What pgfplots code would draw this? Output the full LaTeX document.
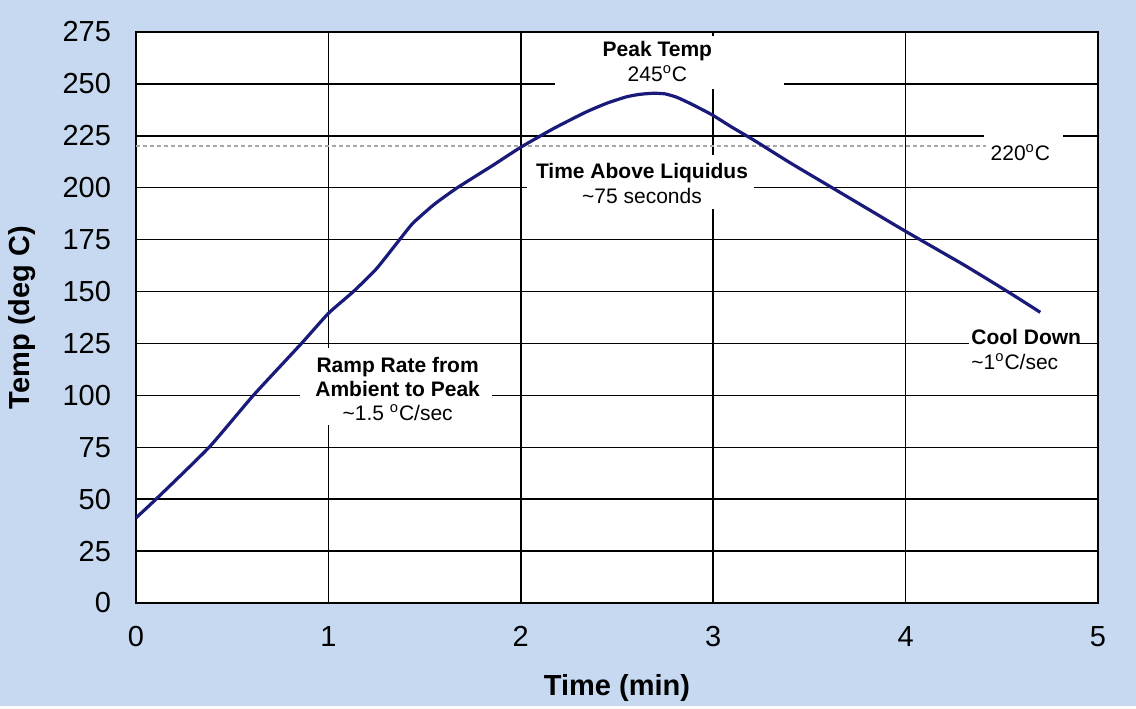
\documentclass[border=0pt]{standalone}
\usepackage{pgfplots}
\pgfplotsset{compat=1.18}
\usepackage{fontspec}
\setmainfont{Liberation Sans}
\definecolor{bg}{RGB}{198,217,240}
\definecolor{curve}{RGB}{26,26,122}
\begin{document}
\begin{tikzpicture}
\fill[bg] (0,0) rectangle (568pt,353pt);
\begin{axis}[
 at={(68pt,51.5pt)}, anchor=south west, scale only axis, width=481pt, height=285.5pt,
 xmin=0,xmax=5,ymin=0,ymax=275,
 xtick={0,1,2,3,4,5}, ytick={0,25,...,275},
 grid=major, major grid style={black, line width=0.75pt},
 axis line style={black, line width=1pt},
 major tick length=0pt,
 axis background/.style={fill=white},
 tick label style={font=\fontsize{14.5}{17}\selectfont},
 /pgf/number format/assume math mode=true,
 yticklabel style={xshift=-9pt},
 xticklabel style={yshift=-8pt},
 xlabel={Time (min)}, ylabel={Temp (deg C)},
 label style={font=\bfseries\fontsize{14.5}{17}\selectfont},
 xlabel style={at={(axis description cs:0.5,-0.149)}, anchor=center},
 ylabel style={at={(axis description cs:-0.1185,0.5)}, anchor=center},
]
% white boxes behind annotations
\fill[white] (axis cs:2.18,247.5) rectangle (axis cs:3.37,273);
\fill[white] (axis cs:2.03,189.6) rectangle (axis cs:3.21,216);
\fill[white] (axis cs:0.85,85.7) rectangle (axis cs:1.85,122.8);
\fill[white] (axis cs:4.41,209.5) rectangle (axis cs:4.82,228.8);
\fill[white] (axis cs:4.33,112) rectangle (axis cs:4.89,132);

\addplot[gray!70, line width=1.2pt, dash pattern=on 2pt off 1.5pt] coordinates {(0,220) (4.42,220)};

\addplot[curve, line width=1.6pt, smooth, tension=0.3] table {
x y
0 41
0.104 50
0.38 75
0.61 100
0.86 125
1.0 139.5
1.13 150
1.25 161
1.37 175
1.44 183
1.55 192
1.67 200
1.85 210.5
2.0 219.5
2.17 228.5
2.34 236.5
2.45 240.8
2.55 243.8
2.62 245
2.69 245.5
2.75 245.2
2.81 243.6
2.88 240.6
2.95 237.3
3.0 234.8
3.1 229
3.21 223
3.4 212
3.6 201
3.8 190
4.0 179
4.3 163
4.53 150
4.7 140
};

\node[align=center, font=\fontsize{10.5}{12.5}\selectfont] at (axis cs:2.71,260.8)
 {\bfseries Peak Temp\\245\textsuperscript{o}C};
\node[align=center, font=\fontsize{10.5}{12.5}\selectfont] at (axis cs:2.63,202)
 {\bfseries Time Above Liquidus\\\textasciitilde75 seconds};
\node[align=center, font=\fontsize{10.5}{12}\selectfont] at (axis cs:1.36,103.3)
 {\bfseries Ramp Rate from\\\bfseries Ambient to Peak\\\textasciitilde1.5 \textsuperscript{o}C/sec};
\node[anchor=west, inner sep=0pt, font=\fontsize{10.5}{12.5}\selectfont] at (axis cs:4.44,216.8)
 {220\textsuperscript{o}C};
\node[anchor=west, align=left, inner sep=0pt, font=\fontsize{10.5}{12.5}\selectfont] at (axis cs:4.34,122.3)
 {\bfseries Cool Down\\\textasciitilde1\textsuperscript{o}C/sec};
\end{axis}
\end{tikzpicture}
\end{document}
